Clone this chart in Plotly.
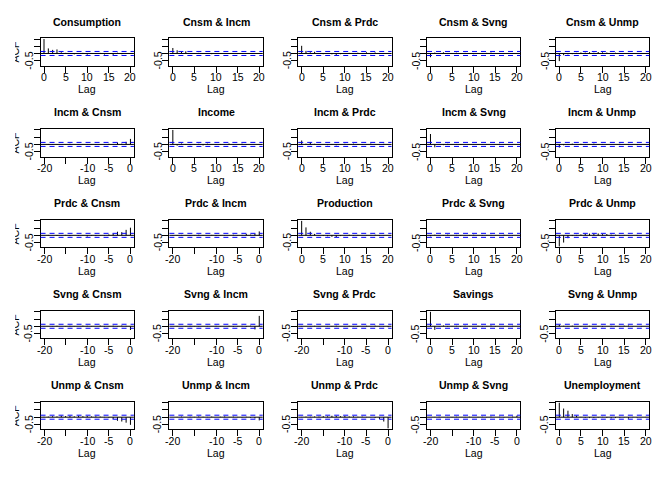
import plotly.graph_objects as go

# ---------------- data ----------------
series_names = ["Consumption", "Income", "Production", "Savings", "Unemployment"]
short_names = ["Cnsm", "Incm", "Prdc", "Svng", "Unmp"]
n_obs = 198
lag_index = list(range(21))
x_ticks_pos = [0, 5, 10, 15, 20]
x_ticklabels_pos = ["0", "5", "10", "15", "20"]
x_ticks_neg = [-20, -15, -10, -5, 0]
x_ticklabels_neg = ["-20", "", "-10", "-5", "0"]
y_ticks = [-0.5, 0.0, 0.5, 1.0]
y_ticklabels = ["-0.5", "", "", ""]

# ACF values by |lag| = 0..20 (lower-triangle panels are plotted at negative lags)
acf_cnsm = [1, 0.35, 0.25, 0.28, 0.08, 0.04, 0.03, -0.06, 0.01, 0.04, -0.08, 0.02, -0.03, 0.04, -0.07, 0.0, -0.10, 0.05, -0.05, 0.03, -0.02]
acf_cnsm_incm = [0.38, 0.22, 0.10, 0.15, 0.02, -0.03, 0.04, -0.02, 0.03, -0.05, 0.01, 0.02, -0.03, 0.0, 0.03, -0.04, -0.02, 0.01, 0.03, -0.02, 0.01]
acf_cnsm_prdc = [0.53, 0.18, 0.08, 0.12, -0.02, -0.05, 0.02, -0.06, -0.10, -0.05, 0.03, 0.04, -0.02, 0.05, 0.02, 0.08, -0.05, 0.07, -0.04, 0.03, 0.02]
acf_cnsm_svng = [-0.26, 0.06, 0.03, 0.08, -0.04, 0.02, 0.05, -0.03, 0.04, 0.0, -0.05, 0.03, -0.02, 0.04, 0.06, -0.03, 0.02, -0.04, 0.03, -0.02, 0.01]
acf_cnsm_unmp = [-0.53, -0.12, -0.06, -0.05, 0.04, 0.07, 0.06, 0.09, 0.05, 0.10, 0.08, 0.06, 0.03, 0.05, 0.02, 0.0, 0.03, -0.02, 0.01, -0.03, 0.02]

acf_incm_cnsm = [0.38, 0.18, 0.05, 0.13, 0.03, 0.04, -0.02, 0.01, -0.04, 0.02, 0.03, -0.03, 0.02, -0.01, 0.04, -0.02, 0.01, 0.02, -0.03, 0.03, 0.02]
acf_incm = [1, -0.08, 0.06, 0.03, -0.05, 0.02, 0.04, -0.07, 0.05, 0.01, -0.04, 0.03, -0.03, 0.06, -0.02, 0.0, 0.05, -0.04, 0.02, 0.01, -0.03]
acf_incm_prdc = [0.27, 0.05, 0.16, 0.04, -0.03, 0.02, -0.05, 0.03, -0.06, 0.01, 0.04, -0.02, 0.05, 0.03, -0.04, 0.02, 0.06, 0.03, -0.03, 0.04, 0.02]
acf_incm_svng = [0.72, -0.20, 0.03, -0.05, 0.04, -0.02, 0.03, -0.04, 0.02, 0.01, -0.03, 0.02, -0.02, 0.03, -0.01, 0.02, 0.04, -0.03, 0.02, -0.02, 0.01]
acf_incm_unmp = [-0.22, -0.06, -0.03, 0.05, 0.02, 0.04, 0.03, -0.02, 0.05, 0.02, 0.03, -0.04, 0.02, 0.01, 0.04, -0.02, 0.03, 0.02, -0.05, 0.01, 0.02]

acf_prdc_cnsm = [0.53, 0.38, 0.22, 0.25, 0.12, 0.06, -0.03, 0.02, -0.05, -0.04, -0.08, 0.02, -0.03, 0.01, -0.05, 0.03, 0.02, -0.04, 0.01, 0.03, 0.02]
acf_prdc_incm = [0.27, 0.12, 0.05, 0.10, 0.03, -0.02, 0.04, 0.01, -0.03, 0.02, -0.05, 0.03, 0.01, -0.02, 0.04, 0.02, -0.03, 0.01, 0.03, -0.02, 0.02]
acf_prdc = [1, 0.55, 0.25, 0.10, 0.02, -0.05, -0.06, -0.10, -0.12, -0.05, 0.02, 0.04, -0.03, 0.03, 0.01, -0.02, 0.03, 0.04, -0.03, 0.02, 0.01]
acf_prdc_svng = [-0.06, 0.04, 0.02, -0.03, 0.05, 0.01, 0.03, -0.04, 0.02, -0.02, 0.04, 0.01, -0.03, 0.02, 0.03, -0.02, 0.01, 0.04, -0.01, 0.02, 0.01]
acf_prdc_unmp = [-0.768, -0.50, -0.20, -0.05, 0.03, 0.06, 0.10, 0.12, 0.10, 0.13, 0.08, 0.09, 0.05, 0.04, 0.02, 0.03, -0.02, 0.01, 0.03, -0.01, 0.0]

acf_svng_cnsm = [-0.26, 0.03, 0.05, -0.02, 0.04, 0.02, -0.03, 0.05, 0.01, -0.02, 0.03, 0.04, -0.01, 0.02, 0.03, -0.02, 0.01, 0.03, 0.02, -0.01, 0.02]
acf_svng_incm = [0.72, -0.22, 0.04, -0.05, 0.03, 0.02, -0.04, 0.03, 0.01, -0.02, 0.03, -0.01, 0.02, 0.01, -0.03, 0.02, 0.03, -0.02, 0.01, 0.02, -0.01]
acf_svng_prdc = [-0.06, -0.03, 0.02, 0.04, -0.02, 0.03, 0.01, -0.04, 0.02, 0.03, -0.02, 0.01, 0.04, -0.03, 0.02, 0.01, -0.02, 0.03, 0.02, -0.01, 0.02]
acf_svng = [1, -0.25, -0.03, 0.05, -0.04, 0.02, 0.03, -0.05, 0.04, -0.02, 0.01, 0.03, -0.04, 0.02, 0.05, -0.03, 0.01, 0.02, -0.02, 0.03, 0.01]
acf_svng_unmp = [0.106, 0.03, -0.02, 0.04, 0.01, -0.03, 0.02, 0.03, -0.01, 0.02, -0.04, 0.01, 0.03, 0.02, -0.02, 0.04, 0.05, -0.02, 0.01, 0.02, -0.01]

acf_unmp_cnsm = [-0.53, -0.38, -0.30, -0.25, -0.12, -0.04, 0.02, 0.04, 0.06, 0.05, 0.08, 0.07, 0.10, 0.06, 0.09, 0.08, 0.10, 0.05, 0.07, 0.04, 0.03]
acf_unmp_incm = [-0.22, -0.08, -0.05, 0.03, -0.03, 0.02, 0.04, 0.02, 0.05, 0.03, 0.01, 0.04, 0.02, 0.03, 0.05, 0.02, 0.03, 0.01, 0.04, 0.02, 0.01]
acf_unmp_prdc = [-0.768, -0.30, -0.12, -0.05, -0.02, 0.02, 0.04, 0.03, 0.06, 0.05, 0.08, 0.07, 0.09, 0.10, 0.06, 0.07, 0.04, 0.05, 0.03, 0.04, 0.02]
acf_unmp_svng = [0.106, 0.04, 0.02, -0.03, 0.03, 0.01, 0.04, -0.02, 0.03, 0.02, -0.01, 0.03, 0.02, 0.01, 0.03, -0.02, 0.02, 0.01, 0.03, 0.02, 0.01]
acf_unmp = [1, 0.60, 0.45, 0.22, 0.10, 0.02, -0.04, -0.06, -0.05, -0.03, 0.02, -0.05, -0.08, -0.06, -0.04, -0.02, -0.10, 0.02, -0.03, -0.01, 0.02]

panels = [
    [acf_cnsm, acf_cnsm_incm, acf_cnsm_prdc, acf_cnsm_svng, acf_cnsm_unmp],
    [acf_incm_cnsm, acf_incm, acf_incm_prdc, acf_incm_svng, acf_incm_unmp],
    [acf_prdc_cnsm, acf_prdc_incm, acf_prdc, acf_prdc_svng, acf_prdc_unmp],
    [acf_svng_cnsm, acf_svng_incm, acf_svng_prdc, acf_svng, acf_svng_unmp],
    [acf_unmp_cnsm, acf_unmp_incm, acf_unmp_prdc, acf_unmp_svng, acf_unmp],
]

# ---------------- geometry (R par: mar=c(3,2,2,0.8), oma=c(1,1.2,1,1), cex=0.66) ----------------
W, H = 672, 480
LINE = 0.2 * 96 * 0.66
OMA_B, OMA_L, OMA_T, OMA_R = 1, 1.2, 1, 1
MAR_B, MAR_L, MAR_T, MAR_R = 3, 2, 2, 0.8
NS = len(series_names)
cell_w = (W - (OMA_L + OMA_R) * LINE) / NS
cell_h = (H - (OMA_T + OMA_B) * LINE) / NS
FS = 12 * 0.66 * 96 / 72
FONT = "Liberation Sans, Arial, sans-serif"

ci = 1.96 / n_obs ** 0.5
all_vals = [v for row in panels for p in row for v in p]
lo = min(min(all_vals), -ci)
hi = max(max(all_vals), ci)
pad = 0.04 * (hi - lo)
y_range = [lo - pad, hi + pad]

fig = go.Figure()
layout = dict(
    width=W, height=H, margin=dict(l=0, r=0, t=0, b=0),
    paper_bgcolor="white", plot_bgcolor="white", showlegend=False,
)
shapes = []
annotations = []

for r in range(NS):
    for c in range(NS):
        idx = r * NS + c + 1
        xa = "x" if idx == 1 else f"x{idx}"
        ya = "y" if idx == 1 else f"y{idx}"
        xkey = "xaxis" if idx == 1 else f"xaxis{idx}"
        ykey = "yaxis" if idx == 1 else f"yaxis{idx}"
        left = OMA_L * LINE + c * cell_w + MAR_L * LINE
        right = OMA_L * LINE + (c + 1) * cell_w - MAR_R * LINE
        top = OMA_T * LINE + r * cell_h + MAR_T * LINE
        bottom = OMA_T * LINE + (r + 1) * cell_h - MAR_B * LINE
        neg = r > c
        sign = -1 if neg else 1
        vals = panels[r][c]
        lags = [sign * k for k in lag_index]
        x_range = [min(lags) - 0.04 * 20, max(lags) + 0.04 * 20]
        ticks = x_ticks_neg if neg else x_ticks_pos
        tlabels = x_ticklabels_neg if neg else x_ticklabels_pos

        xs, ys = [], []
        for lg, v in zip(lags, vals):
            xs += [lg, lg, None]
            ys += [0, v, None]
        fig.add_trace(go.Scatter(x=xs, y=ys, mode="lines", xaxis=xa, yaxis=ya,
                                 line=dict(color="black", width=1), hoverinfo="skip"))

        layout[xkey] = dict(domain=[left / W, right / W], range=x_range, anchor=ya,
                            showgrid=False, zeroline=False, showline=True, mirror=True,
                            linecolor="black", linewidth=1, ticks="outside", ticklen=6,
                            tickwidth=1, tickcolor="black", tickvals=ticks,
                            showticklabels=False, fixedrange=True)
        layout[ykey] = dict(domain=[1 - bottom / H, 1 - top / H], range=y_range, anchor=xa,
                            showgrid=False, zeroline=False, showline=True, mirror=True,
                            linecolor="black", linewidth=1, ticks="outside", ticklen=6,
                            tickwidth=1, tickcolor="black", tickvals=y_ticks,
                            showticklabels=False, fixedrange=True)

        # zero line and confidence bounds
        shapes.append(dict(type="line", xref=f"{xa} domain", yref=ya, x0=0, x1=1, y0=0, y1=0,
                           line=dict(color="black", width=1)))
        for s in (-1, 1):
            shapes.append(dict(type="line", xref=f"{xa} domain", yref=ya, x0=0, x1=1,
                               y0=s * ci, y1=s * ci,
                               line=dict(color="#0000FF", width=1, dash="5px,4px")))

        # title
        title = series_names[r] if r == c else f"{short_names[r]} & {short_names[c]}"
        annotations.append(dict(text=f"<b>{title}</b>", xref="paper", yref="paper",
                                x=(left + right) / 2 / W, y=1 - (top - 16.5) / H,
                                xanchor="center", yanchor="middle", showarrow=False,
                                font=dict(family=FONT, size=FS, color="black")))
        # x label
        annotations.append(dict(text="Lag", xref="paper", yref="paper",
                                x=(left + right) / 2 / W, y=1 - (bottom + 23.5) / H,
                                xanchor="center", yanchor="middle", showarrow=False,
                                font=dict(family=FONT, size=FS, color="black")))
        # x tick labels
        for tv, tl in zip(ticks, tlabels):
            if tl:
                annotations.append(dict(text=tl, xref=xa, yref="paper", x=tv,
                                        y=1 - (bottom + 11.6) / H, xanchor="center",
                                        yanchor="middle", showarrow=False,
                                        font=dict(family=FONT, size=FS, color="black")))
        # y tick labels (rotated)
        for tv, tl in zip(y_ticks, y_ticklabels):
            if tl:
                annotations.append(dict(text=tl, xref="paper", yref=ya, x=(left - 11.6) / W,
                                        y=tv, xanchor="center", yanchor="middle",
                                        textangle=-90, showarrow=False,
                                        font=dict(family=FONT, size=FS, color="black")))

        # "ACF" y label in first column, clipped by the figure region like R does
        if c == 0:
            extra_idx = NS * NS + 1 + r
            exa = f"x{extra_idx}"
            layout[f"xaxis{extra_idx}"] = dict(domain=[OMA_L * LINE / W, left / W],
                                               range=[0, left - OMA_L * LINE], anchor=ya,
                                               visible=False, fixedrange=True)
            fig.add_trace(go.Bar(x=[0], y=[y_range[1] - y_range[0]], base=[y_range[0]],
                                 width=[30], xaxis=exa, yaxis=ya, text=["ACF"],
                                 textposition="inside", insidetextanchor="middle",
                                 textangle=-90, constraintext="none", cliponaxis=True,
                                 insidetextfont=dict(family=FONT, size=FS, color="black"),
                                 marker=dict(color="rgba(0,0,0,0)", line=dict(width=0)),
                                 hoverinfo="skip"))

layout["shapes"] = shapes
layout["annotations"] = annotations
fig.update_layout(**layout)
fig.write_html("out.html")
